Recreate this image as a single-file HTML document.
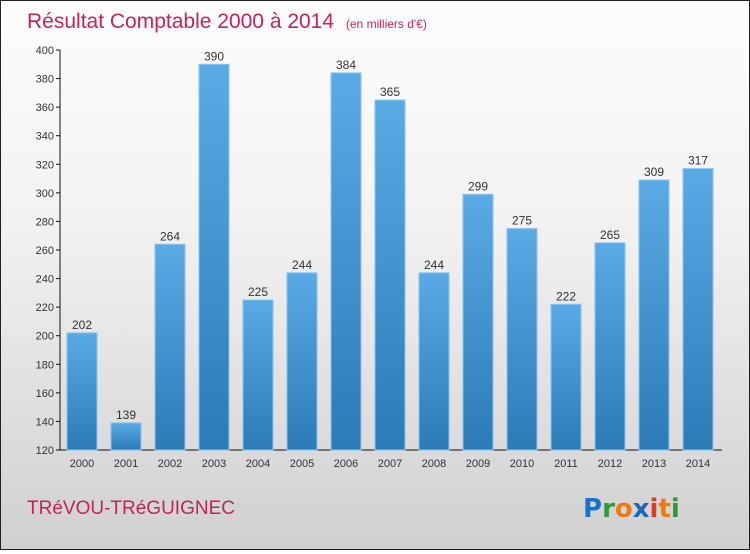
<!DOCTYPE html>
<html><head><meta charset="utf-8"><style>
body{margin:0;width:750px;height:550px;overflow:hidden;font-family:"Liberation Sans",sans-serif}
#root{position:absolute;left:0;top:0;width:748px;height:548px;border:1px solid #222;background:linear-gradient(#fdfdfd,#f2f2f2 40%,#d0d0d0)}
</style></head><body>
<div id="root">
<svg width="748" height="548">
<defs><linearGradient id="bg" x1="0" y1="0" x2="0" y2="1"><stop offset="0" stop-color="#5aaae6"/><stop offset="1" stop-color="#2a7bb6"/></linearGradient></defs>
<text x="26" y="27" font-size="21" fill="#c0245a">Résultat Comptable 2000 à 2014 <tspan font-size="12" dx="6">(en milliers d'€)</tspan></text>
<g id="axes"></g><g id="bars"></g>
<text x="26" y="513" font-size="19" fill="#c0245a">TRéVOU-TRéGUIGNEC</text>
<g font-size="26" font-weight="bold" font-family="'DejaVu Sans',sans-serif">
<text x="582" y="516"><tspan fill="#1a73c8">P</tspan><tspan fill="#2a9a3a">r</tspan><tspan fill="#f07a10">o</tspan><tspan fill="#1a66c0">x</tspan><tspan fill="#e03a20">i</tspan><tspan fill="#f07a10">t</tspan><tspan fill="#2a9a3a">i</tspan></text></g>
</svg></div>
<script>
const categories=["2000","2001","2002","2003","2004","2005","2006","2007","2008","2009","2010","2011","2012","2013","2014"];
const values=[202,139,264,390,225,244,384,365,244,299,275,222,265,309,317];
const yTicks=[120,140,160,180,200,220,240,260,280,300,320,340,360,380,400];
const NS="http://www.w3.org/2000/svg";
const y=v=>449-(v-120)*(400/280);
const x=i=>81+i*44;
function mk(t,a,p,txt){const e=document.createElementNS(NS,t);for(const k in a)e.setAttribute(k,a[k]);if(txt!==undefined)e.textContent=txt;p.appendChild(e);return e;}
const ax=document.getElementById('axes'),bg=document.getElementById('bars');
let l=mk('line',{x1:59,y1:49,x2:59,y2:449,stroke:'#111'},ax);


l=mk('line',{x1:59,y1:449,x2:721,y2:449,stroke:'#111'},ax);


yTicks.forEach(v=>{
 mk('line',{x1:55,y1:y(v),x2:59,y2:y(v),stroke:'#111'},ax);
 const t=mk('text',{x:53,y:y(v)+4,'text-anchor':'end','font-size':11,fill:'#333'},ax,v);
 
 
});
categories.forEach((c,i)=>{
 const t=mk('text',{x:x(i),y:466,'text-anchor':'middle','font-size':11,fill:'#333'},ax,c);
 
 
 const r=mk('rect',{x:x(i)-15,y:y(values[i]),width:30,height:449-y(values[i]),fill:'url(#bg)',stroke:'#8cc4ee','stroke-width':1},bg);
 
 
 const vt=mk('text',{x:x(i),y:y(values[i])-4,'text-anchor':'middle','font-size':12,fill:'#333'},bg,values[i]);
 
 
});
</script>
</body></html>
